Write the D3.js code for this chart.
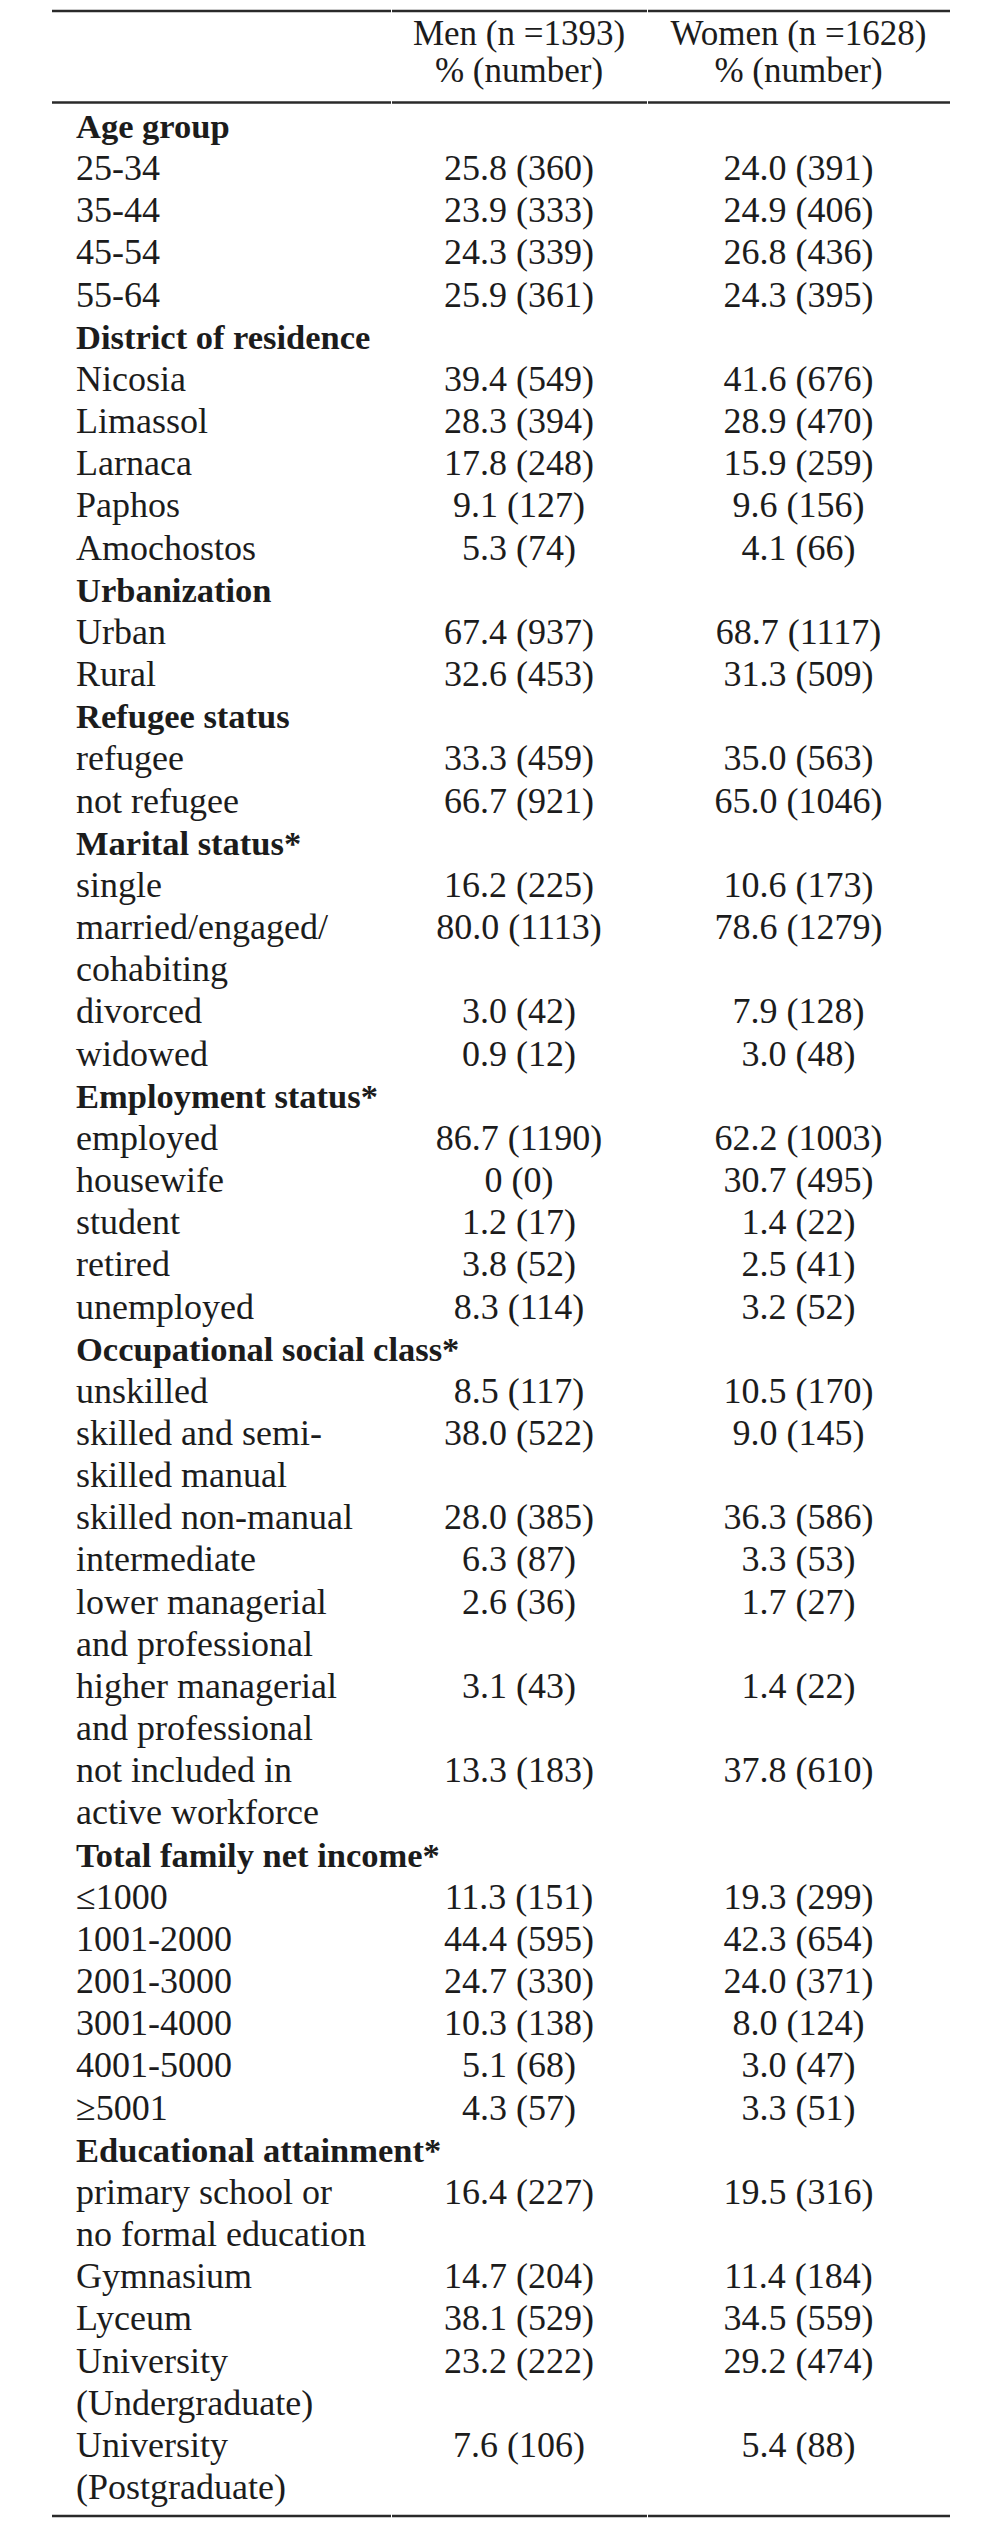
<!DOCTYPE html>
<html>
<head>
<meta charset="utf-8">
<script src="https://cdn.jsdelivr.net/npm/d3@7"></script>
<style>
  html, body { margin: 0; padding: 0; background: #fff; }
  svg { display: block; }
  text { font-family: "Liberation Serif", "Times New Roman", serif; fill: #1c1c1c; }
</style>
</head>
<body>
<div id="table"></div>
<script>
// column headers
const groups = ["Men (n =1393)", "Women (n =1628)"];
const subHeader = "% (number)";

// section headings
const sections = [
  "Age group", "District of residence", "Urbanization", "Refugee status",
  "Marital status*", "Employment status*", "Occupational social class*",
  "Total family net income*", "Educational attainment*"
];

// row labels ("\n" = wrapped label), which section each belongs to
const rowLabels = [
  "25-34", "35-44", "45-54", "55-64",
  "Nicosia", "Limassol", "Larnaca", "Paphos", "Amochostos",
  "Urban", "Rural",
  "refugee", "not refugee",
  "single", "married/engaged/\ncohabiting", "divorced", "widowed",
  "employed", "housewife", "student", "retired", "unemployed",
  "unskilled", "skilled and semi-\nskilled manual", "skilled non-manual", "intermediate",
  "lower managerial\nand professional", "higher managerial\nand professional",
  "not included in\nactive workforce",
  "≤1000", "1001-2000", "2001-3000", "3001-4000", "4001-5000", "≥5001",
  "primary school or\nno formal education", "Gymnasium", "Lyceum",
  "University\n(Undergraduate)", "University\n(Postgraduate)"
];
const rowSection = [
  0, 0, 0, 0,
  1, 1, 1, 1, 1,
  2, 2,
  3, 3,
  4, 4, 4, 4,
  5, 5, 5, 5, 5,
  6, 6, 6, 6, 6, 6, 6,
  7, 7, 7, 7, 7, 7,
  8, 8, 8, 8, 8
];

const menValues = [
  "25.8 (360)", "23.9 (333)", "24.3 (339)", "25.9 (361)",
  "39.4 (549)", "28.3 (394)", "17.8 (248)", "9.1 (127)", "5.3 (74)",
  "67.4 (937)", "32.6 (453)",
  "33.3 (459)", "66.7 (921)",
  "16.2 (225)", "80.0 (1113)", "3.0 (42)", "0.9 (12)",
  "86.7 (1190)", "0 (0)", "1.2 (17)", "3.8 (52)", "8.3 (114)",
  "8.5 (117)", "38.0 (522)", "28.0 (385)", "6.3 (87)", "2.6 (36)", "3.1 (43)", "13.3 (183)",
  "11.3 (151)", "44.4 (595)", "24.7 (330)", "10.3 (138)", "5.1 (68)", "4.3 (57)",
  "16.4 (227)", "14.7 (204)", "38.1 (529)", "23.2 (222)", "7.6 (106)"
];
const womenValues = [
  "24.0 (391)", "24.9 (406)", "26.8 (436)", "24.3 (395)",
  "41.6 (676)", "28.9 (470)", "15.9 (259)", "9.6 (156)", "4.1 (66)",
  "68.7 (1117)", "31.3 (509)",
  "35.0 (563)", "65.0 (1046)",
  "10.6 (173)", "78.6 (1279)", "7.9 (128)", "3.0 (48)",
  "62.2 (1003)", "30.7 (495)", "1.4 (22)", "2.5 (41)", "3.2 (52)",
  "10.5 (170)", "9.0 (145)", "36.3 (586)", "3.3 (53)", "1.7 (27)", "1.4 (22)", "37.8 (610)",
  "19.3 (299)", "42.3 (654)", "24.0 (371)", "8.0 (124)", "3.0 (47)", "3.3 (51)",
  "19.5 (316)", "11.4 (184)", "34.5 (559)", "29.2 (474)", "5.4 (88)"
];

// flatten into printed lines
const lines = [];
sections.forEach((sec, si) => {
  lines.push({ text: sec, bold: true });
  rowLabels.forEach((lab, ri) => {
    if (rowSection[ri] !== si) return;
    lab.split("\n").forEach((part, pi) => {
      lines.push({
        text: part,
        bold: false,
        men: pi === 0 ? menValues[ri] : null,
        women: pi === 0 ? womenValues[ri] : null
      });
    });
  });
});

const width = 1006, height = 2528;
const svg = d3.select("#table").append("svg")
  .attr("width", width)
  .attr("height", height);

const y = d3.scaleLinear()
  .domain([0, lines.length - 1])
  .range([138, 2499]);

const col = d3.scalePoint()
  .domain(groups)
  .range([519, 798.5]);

const labelX = 76;

// horizontal rules, broken into cell segments like the source
const ruleSegs = [[52, 391], [392, 647], [648, 950]];
[11, 102.5, 2516].forEach(ry => {
  svg.append("g").selectAll("line")
    .data(ruleSegs)
    .enter()
    .append("line")
    .attr("x1", d => d[0])
    .attr("x2", d => d[1])
    .attr("y1", ry)
    .attr("y2", ry)
    .attr("stroke", "#2a2a2a")
    .attr("stroke-width", 2.6);
});

// header
groups.forEach(g => {
  svg.append("text")
    .attr("x", col(g))
    .attr("y", 45)
    .attr("text-anchor", "middle")
    .attr("font-size", 35)
    .text(g);
  svg.append("text")
    .attr("x", col(g))
    .attr("y", 82)
    .attr("text-anchor", "middle")
    .attr("font-size", 35)
    .text(subHeader);
});

// body
const rows = svg.append("g").selectAll("g")
  .data(lines)
  .enter()
  .append("g")
  .attr("transform", (d, i) => `translate(0,${y(i)})`);

rows.append("text")
  .attr("x", labelX)
  .attr("font-size", d => d.bold ? 34.5 : 36)
  .attr("font-weight", d => d.bold ? "bold" : "normal")
  .text(d => d.text);

rows.filter(d => d.men).append("text")
  .attr("x", col(groups[0]))
  .attr("text-anchor", "middle")
  .attr("font-size", 36)
  .text(d => d.men);

rows.filter(d => d.women).append("text")
  .attr("x", col(groups[1]))
  .attr("text-anchor", "middle")
  .attr("font-size", 36)
  .text(d => d.women);
</script>
</body>
</html>
